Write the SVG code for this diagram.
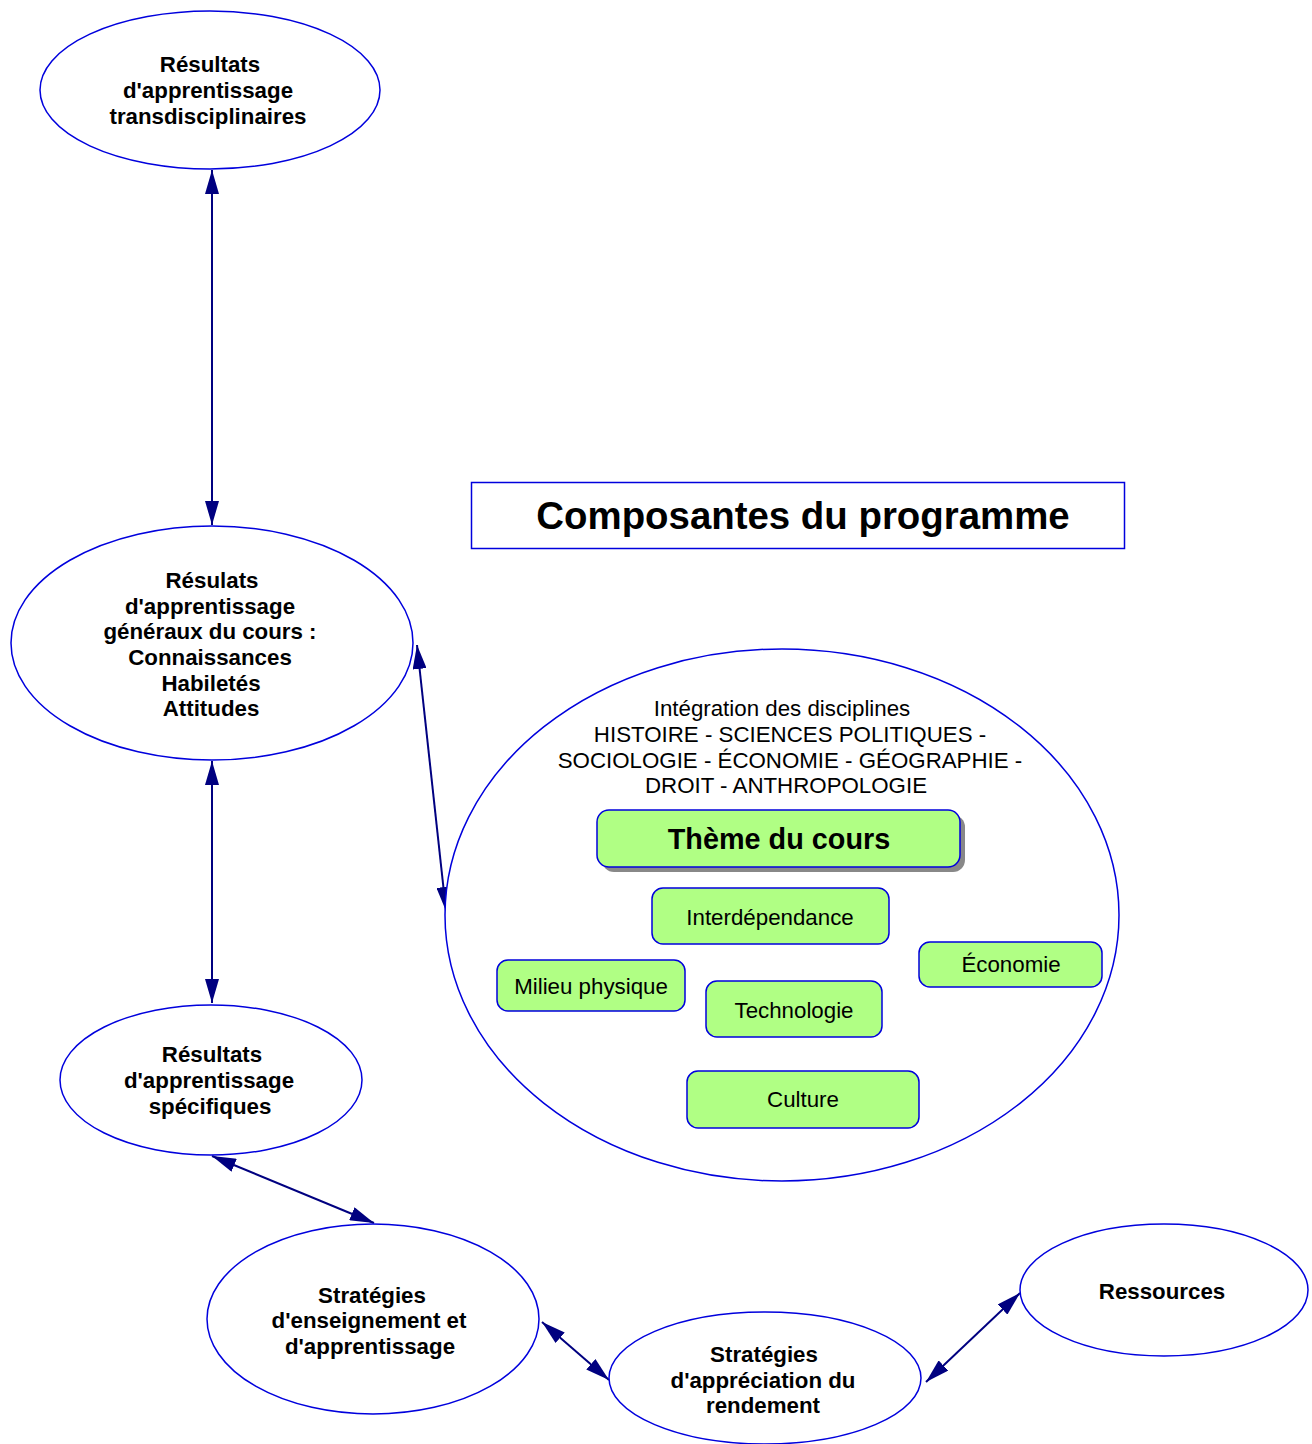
<svg xmlns="http://www.w3.org/2000/svg" width="1312" height="1444" viewBox="0 0 1312 1444">
<defs>
<style>
.ell{fill:#fff;stroke:#0000dd;stroke-width:1.5}
.lb{font-family:"Liberation Sans",Arial,sans-serif;font-weight:bold;font-size:22.3px;fill:#000;text-anchor:middle}
.rg{font-family:"Liberation Sans",Arial,sans-serif;font-size:22.3px;fill:#000;text-anchor:middle}
.gb{fill:#b0ff84;stroke:#0000dd;stroke-width:1.5}
.cn{stroke:#000080;stroke-width:2;fill:none;marker-start:url(#ah);marker-end:url(#ah)}
</style>
<marker id="ah" viewBox="0 0 24 14" refX="24" refY="7" markerWidth="24" markerHeight="14" markerUnits="userSpaceOnUse" orient="auto-start-reverse">
<path d="M0,0 L24,7 L0,14 Z" fill="#000080"/>
</marker>
</defs>
<rect width="1312" height="1444" fill="#fff"/>

<g id="connectors">
<line class="cn" x1="212" y1="170" x2="212" y2="525"/>
<line class="cn" x1="212" y1="761" x2="212" y2="1003"/>
<line class="cn" x1="417" y1="645" x2="446" y2="911"/>
<line class="cn" x1="212" y1="1156" x2="374" y2="1223"/>
<line class="cn" x1="542" y1="1322" x2="609" y2="1380"/>
<line class="cn" x1="926" y1="1382" x2="1020" y2="1293"/>
</g>

<g id="n-transdisciplinaires">
<ellipse class="ell" cx="210" cy="90" rx="170" ry="79"/>
<text class="lb" x="210" y="72">Résultats</text>
<text class="lb" x="208" y="98">d'apprentissage</text>
<text class="lb" x="208" y="124">transdisciplinaires</text>
</g>

<g id="n-generaux">
<ellipse class="ell" cx="212" cy="643" rx="201" ry="117"/>
<text class="lb" x="212" y="588">Résulats</text>
<text class="lb" x="210" y="614">d'apprentissage</text>
<text class="lb" x="210" y="639">généraux du cours :</text>
<text class="lb" x="210" y="665">Connaissances</text>
<text class="lb" x="211" y="691">Habiletés</text>
<text class="lb" x="211" y="716">Attitudes</text>
</g>

<g id="n-specifiques">
<ellipse class="ell" cx="211" cy="1080" rx="151" ry="75"/>
<text class="lb" x="212" y="1062">Résultats</text>
<text class="lb" x="209" y="1088">d'apprentissage</text>
<text class="lb" x="210" y="1114">spécifiques</text>
</g>

<g id="n-enseignement">
<ellipse class="ell" cx="373" cy="1319" rx="166" ry="95"/>
<text class="lb" x="372" y="1303">Stratégies</text>
<text class="lb" x="369" y="1328">d'enseignement et</text>
<text class="lb" x="370" y="1354">d'apprentissage</text>
</g>

<g id="n-appreciation">
<ellipse class="ell" cx="765" cy="1378" rx="156" ry="66"/>
<text class="lb" x="764" y="1362">Stratégies</text>
<text class="lb" x="763" y="1388">d'appréciation du</text>
<text class="lb" x="763" y="1413">rendement</text>
</g>

<g id="n-ressources">
<ellipse class="ell" cx="1164" cy="1290" rx="144" ry="66"/>
<text class="lb" x="1162" y="1299">Ressources</text>
</g>

<g id="n-titre">
<rect x="471.5" y="482.5" width="653" height="66" fill="#fff" stroke="#0000dd" stroke-width="1.5"/>
<text x="803" y="529" font-family="Liberation Sans,Arial,sans-serif" font-weight="bold" font-size="38.4px" text-anchor="middle">Composantes du programme</text>
</g>

<g id="n-integration">
<ellipse class="ell" cx="782" cy="915" rx="337" ry="266"/>
<text class="rg" x="782" y="716">Intégration des disciplines</text>
<text class="rg" x="790" y="742">HISTOIRE - SCIENCES POLITIQUES -</text>
<text class="rg" x="790" y="768">SOCIOLOGIE - ÉCONOMIE - GÉOGRAPHIE -</text>
<text class="rg" x="786" y="793">DROIT - ANTHROPOLOGIE</text>
</g>

<g id="n-theme">
<rect x="602" y="815" width="363" height="57" rx="12" fill="#888"/>
<rect class="gb" x="597" y="810" width="363" height="57" rx="12"/>
<text x="779" y="849" font-family="Liberation Sans,Arial,sans-serif" font-weight="bold" font-size="28.8px" text-anchor="middle">Thème du cours</text>
</g>

<g id="n-interdependance">
<rect class="gb" x="652" y="888" width="237" height="56" rx="11"/>
<text class="rg" x="770" y="925">Interdépendance</text>
</g>

<g id="n-economie">
<rect class="gb" x="919" y="942" width="183" height="45" rx="11"/>
<text class="rg" x="1011" y="972">Économie</text>
</g>

<g id="n-milieu">
<rect class="gb" x="497" y="960" width="188" height="51" rx="11"/>
<text class="rg" x="591" y="994">Milieu physique</text>
</g>

<g id="n-technologie">
<rect class="gb" x="706" y="981" width="176" height="56" rx="11"/>
<text class="rg" x="794" y="1018">Technologie</text>
</g>

<g id="n-culture">
<rect class="gb" x="687" y="1071" width="232" height="57" rx="11"/>
<text class="rg" x="803" y="1107">Culture</text>
</g>
</svg>
